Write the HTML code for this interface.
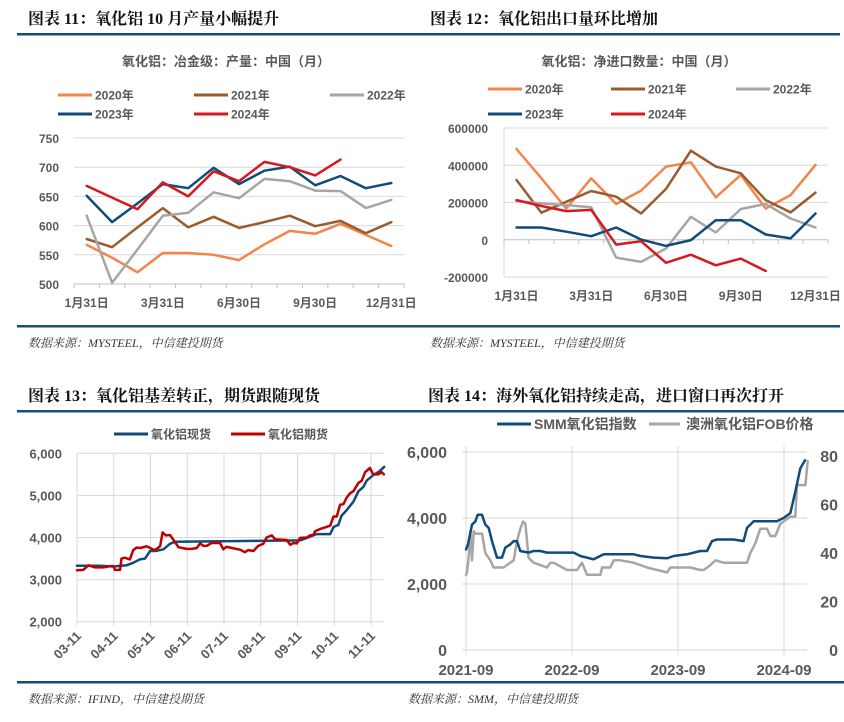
<!DOCTYPE html>
<html><head><meta charset="utf-8"><style>
html,body{margin:0;padding:0;background:#fff;}
svg{display:block;}
.t{font-family:"Liberation Serif","Noto Serif CJK SC",serif;font-weight:bold;font-size:16px;fill:#111;}
.s{font-family:"Liberation Serif","Noto Serif CJK SC",serif;font-style:italic;font-size:12px;fill:#333;}
.a{font-family:"Liberation Sans","Noto Sans CJK SC",sans-serif;font-weight:bold;font-size:12px;fill:#595959;}
.l{font-family:"Liberation Sans","Noto Sans CJK SC",sans-serif;font-weight:bold;font-size:12px;fill:#595959;}
</style></head><body>
<svg id="c" width="844" height="722" xmlns="http://www.w3.org/2000/svg">
<g>
<text class="t" x="28" y="24">图表 11：氧化铝 10 月产量小幅提升</text>
<rect x="17" y="33" width="405" height="2.5" fill="#164E7E"/>
<text class="l" x="226" y="66" text-anchor="middle" style="font-size:13px">氧化铝：冶金级：产量：中国（月）</text>
<rect x="17" y="325" width="405" height="2.5" fill="#164E7E"/>
<text class="s" x="28" y="347">数据来源：MYSTEEL，中信建投期货</text>
</g>
<g>
<text class="t" x="430" y="24">图表 12：氧化铝出口量环比增加</text>
<rect x="422" y="33" width="418" height="2.5" fill="#164E7E"/>
<text class="l" x="639" y="66" text-anchor="middle" style="font-size:13px">氧化铝：净进口数量：中国（月）</text>
<rect x="422" y="325" width="418" height="2.5" fill="#164E7E"/>
<text class="s" x="430" y="347">数据来源：MYSTEEL，中信建投期货</text>
</g>
<g>
<text class="t" x="28" y="401">图表 13：氧化铝基差转正，期货跟随现货</text>
<rect x="17" y="410" width="405" height="2.5" fill="#164E7E"/>
<rect x="17" y="681" width="405" height="2.5" fill="#164E7E"/>
<text class="s" x="28" y="703">数据来源：IFIND，中信建投期货</text>
</g>
<g>
<text class="t" x="428" y="401">图表 14：海外氧化铝持续走高，进口窗口再次打开</text>
<rect x="405" y="410" width="439" height="2.5" fill="#164E7E"/>
<rect x="405" y="681" width="439" height="2.5" fill="#164E7E"/>
<text class="s" x="408" y="703">数据来源：SMM，中信建投期货</text>
</g>
</svg>
<script>
// ---- Chart 11 data ----
const c11Cats = ["1月31日","2月","3月","3月31日","4月","5月","6月30日","7月","8月","9月30日","10月","11月","12月31日"];
const c11Ticks = [750,700,650,600,550,500];
const c11Y2020 = [567,545,520,553,553,550,541,568,591,586,603,584,565];
const c11Y2021 = [577,563,597,630,597,615,596,606,617,599,608,587,606];
const c11Y2022 = [617,502,559,617,622,657,647,680,676,660,659,630,644];
const c11Y2023 = [651,606,638,671,664,699,671,694,701,669,685,664,673];
const c11Y2024 = [668,648,628,674,650,693,676,709,700,686,713];
// ---- Chart 12 data ----
const c12Ticks = [600000,400000,200000,0,-200000];
const c12Y2020 = [487000,330000,168000,330000,192000,264000,393000,416000,228000,348000,168000,240000,402000];
const c12Y2021 = [321000,145000,204000,262000,231000,141000,273000,478000,393000,357000,213000,147000,253000];
const c12Y2022 = [208000,195000,186000,174000,-96000,-119000,-47000,123000,39000,165000,192000,114000,66000];
const c12Y2023 = [66000,66000,43000,19000,66000,1000,-33000,-2000,105000,105000,28000,7000,141000];
const c12Y2024 = [213000,181000,154000,160000,-26000,-8000,-124000,-80000,-137000,-101000,-168000];
// ---- Chart 13 data (month offset from 03-11) ----
const c13Labels = ["03-11","04-11","05-11","06-11","07-11","08-11","09-11","10-11","11-11"];
const c13Ticks = [6000,5000,4000,3000,2000];
const c13SpotM = [0,0.62,0.99,1.35,1.53,1.71,1.85,1.99,2.14,2.35,2.53,2.67,6.07,6.25,6.52,6.89,6.98,7.11,7.2,7.34,7.52,7.66,7.79,7.88,8.06,8.24,8.36];
const c13SpotV = [3330,3330,3310,3340,3400,3480,3500,3680,3680,3720,3850,3900,3930,3990,4080,4080,4250,4300,4520,4650,4850,5100,5200,5350,5480,5580,5680];
const c13FutM = [0,0.17,0.31,0.49,0.72,0.9,0.99,1.03,1.17,1.21,1.3,1.44,1.53,1.62,1.72,1.9,1.99,2.12,2.26,2.33,2.42,2.53,2.62,2.76,2.98,3.12,3.26,3.35,3.44,3.53,3.66,3.89,3.98,4.07,4.26,4.44,4.57,4.66,4.8,4.93,5.07,5.16,5.3,5.39,5.53,5.71,5.8,5.89,5.98,6.07,6.25,6.34,6.43,6.48,6.61,6.89,6.98,7.07,7.16,7.25,7.34,7.43,7.52,7.66,7.75,7.84,7.97,8.06,8.2,8.29,8.35];
const c13FutV = [3220,3230,3340,3290,3290,3320,3320,3230,3230,3500,3520,3480,3700,3760,3750,3790,3750,3700,3790,4120,4050,4060,3950,3770,3730,3730,3750,3860,3800,3800,3870,3870,3720,3780,3740,3710,3650,3700,3680,3800,3850,4000,4050,3960,3950,3940,3830,3870,3860,3990,4000,4050,4060,4150,4200,4280,4500,4500,4780,4790,4950,5050,5100,5300,5350,5550,5650,5500,5500,5550,5500];
// ---- Chart 14 data (month offset from 2021-09) ----
const c14Labels = ["2021-09","2022-09","2023-09","2024-09"];
const c14LeftTicks = [6000,4000,2000,0];
const c14RightTicks = [80,60,40,20,0];
const c14SmmM = [0,0.23,0.68,1.06,1.32,1.81,2.19,2.57,2.94,3.51,4.08,4.45,5.02,5.4,5.77,6.15,7.09,7.66,8.42,9.17,12.19,12.94,13.7,14.45,14.83,15.58,17.47,18.98,19.74,21.25,22.75,23.51,25.02,26.53,26.72,27.28,27.85,28.42,30.3,31.43,31.81,32.38,32.57,35.21,35.96,36.72,37.28,37.85,38.38];
const c14SmmV = [3050,3200,3800,3900,4100,4100,3800,3700,3300,2800,2800,3100,3200,3300,3300,3000,2950,3000,3000,2950,2950,2850,2800,2750,2800,2900,2900,2900,2850,2800,2780,2850,2900,3000,3000,3000,3300,3350,3350,3300,3700,3850,3900,3900,4000,4150,4800,5500,5750];
const c14FobM = [0,0.11,0.3,0.49,0.68,0.87,1.06,1.81,2.19,2.75,3.13,4.26,5.02,5.4,5.77,6.15,6.45,6.72,7.09,7.66,8.42,9.17,9.55,9.92,11.43,11.81,12.57,13.13,13.7,15.21,15.4,16.34,16.72,17.47,18.98,19.74,20.49,22.75,23.13,25.4,26.53,26.91,27.66,28.23,29.17,31.81,32.19,32.75,33.32,34.08,34.45,35.02,35.58,36.72,37.28,37.47,38.42,38.68];
const c14FobV = [31,32,38,49,37,49,48,48,40,37,34,34,36,37,45,50,53,52,38,36,35,34,36,36,33,33,33,36,31,31,34,34,37,37,36,35,34,32,34,34,33,33,35,37,36,36,40,44,50,50,47,47,52,55,55,68,68,78];
</script>
<script>
const NS="http://www.w3.org/2000/svg";
const svg=document.getElementById('c');
function mk(tag,attrs,parent){const e=document.createElementNS(NS,tag);for(const k in attrs)e.setAttribute(k,attrs[k]);(parent||svg).appendChild(e);return e;}
function txt(cls,x,y,s,anchor,parent){const e=mk('text',{class:cls,x:x,y:y,'text-anchor':anchor||'start'},parent);e.textContent=s;return e;}
function poly(pts,color,w,parent){return mk('polyline',{points:pts.map(p=>p[0].toFixed(1)+','+p[1].toFixed(1)).join(' '),fill:'none',stroke:color,'stroke-width':w,'stroke-linejoin':'round','stroke-linecap':'round'},parent);}
const COL={o:'#F4844A',b:'#9A5B2E',g:'#A6A6A6',n:'#0F4C7C',r:'#D7191F'};

function legend(parent,x,y,color,label,name,len){
  const g=mk('g',{},parent);
  
  
  mk('line',{x1:x,y1:y,x2:x+(len||34),y2:y,stroke:color,'stroke-width':3},g);
  txt('l',x+(len||34)+3,y+4.5,label,'start',g);
}

// ---------- Chart 11 ----------
(function(){
  const g=mk('g',{});
  
  
  const x0=74,x1=404,yTop=138,yBot=284,vMin=500,vMax=750;
  const n=c11Cats.length,bw=(x1-x0)/n;
  const X=i=>x0+(i+0.5)*bw, Y=v=>yBot-(v-vMin)/(vMax-vMin)*(yBot-yTop);
  c11Ticks.forEach(t=>{
    if(t!==vMin){const gl=mk('line',{x1:x0,x2:x1,y1:Y(t),y2:Y(t),stroke:'#D9D9D9','stroke-width':1},g);
    
    }
    const tl=txt('a',59,Y(t)+5,String(t),'end',g);
    
    
  });
  mk('line',{x1:x0,x2:x1,y1:yBot,y2:yBot,stroke:'#BFBFBF','stroke-width':1},g);
  for(let i=0;i<=n;i++)mk('line',{x1:x0+i*bw,x2:x0+i*bw,y1:yBot,y2:yBot+4,stroke:'#BFBFBF'},g);
  [0,3,6,9,12].forEach(i=>{const tl=txt('a',X(i),yBot+23,c11Cats[i],'middle',g);
    
    });
  [[c11Y2020,COL.o,'line-2020'],[c11Y2021,COL.b,'line-2021'],[c11Y2022,COL.g,'line-2022'],[c11Y2023,COL.n,'line-2023'],[c11Y2024,COL.r,'line-2024']].forEach(([d,c,nm])=>{
    const p=poly(d.map((v,i)=>[X(i),Y(v)]),c,2.5,g);
    
    
  });
  legend(g,58,95,COL.o,'2020年','legend-2020');
  legend(g,194,95,COL.b,'2021年','legend-2021');
  legend(g,330,95,COL.g,'2022年','legend-2022');
  legend(g,58,114,COL.n,'2023年','legend-2023');
  legend(g,194,114,COL.r,'2024年','legend-2024');
})();

// ---------- Chart 12 ----------
(function(){
  const g=mk('g',{});
  
  
  const x0=504,x1=828,yTop=128,yBot=277,vMin=-200000,vMax=600000;
  const n=13,bw=(x1-x0)/n;
  const X=i=>x0+(i+0.5)*bw, Y=v=>yBot-(v-vMin)/(vMax-vMin)*(yBot-yTop);
  c12Ticks.forEach(t=>{
    const gl=mk('line',{x1:x0,x2:x1,y1:Y(t),y2:Y(t),stroke:t===0?'#BFBFBF':'#D9D9D9','stroke-width':1},g);
    
    
    const tl=txt('a',488,Y(t)+5,String(t),'end',g);
    
    
  });
  mk('line',{x1:x0,x2:x0,y1:yTop,y2:yBot,stroke:'#D9D9D9'},g);
  for(let i=0;i<=n;i++)mk('line',{x1:x0+i*bw,x2:x0+i*bw,y1:Y(0),y2:Y(0)+4,stroke:'#BFBFBF'},g);
  [[0,'1月31日'],[3,'3月31日'],[6,'6月30日'],[9,'9月30日'],[12,'12月31日']].forEach(([i,s])=>{const tl=txt('a',X(i),300,s,'middle',g);
    
    });
  [[c12Y2020,COL.o,'line-2020'],[c12Y2021,COL.b,'line-2021'],[c12Y2022,COL.g,'line-2022'],[c12Y2023,COL.n,'line-2023'],[c12Y2024,COL.r,'line-2024']].forEach(([d,c,nm])=>{
    const p=poly(d.map((v,i)=>[X(i),Y(v)]),c,2.5,g);
    
    
  });
  legend(g,488,89,COL.o,'2020年','legend-2020');
  legend(g,611,89,COL.b,'2021年','legend-2021');
  legend(g,736,89,COL.g,'2022年','legend-2022');
  legend(g,488,114,COL.n,'2023年','legend-2023');
  legend(g,611,114,COL.r,'2024年','legend-2024');
})();

// ---------- Chart 13 ----------
(function(){
  const g=mk('g',{});
  
  
  const x0=77,x1=384,yTop=453.3,yBot=621.7,vMin=2000,vMax=6000,mw=36.75;
  const X=m=>x0+m*mw, Y=v=>yBot-(v-vMin)/(vMax-vMin)*(yBot-yTop);
  c13Ticks.forEach(t=>{
    const gl=mk('line',{x1:x0,x2:x1,y1:Y(t),y2:Y(t),stroke:'#D9D9D9','stroke-width':1},g);
    
    
    const tl=txt('a',62,Y(t)+5,t.toLocaleString('en-US'),'end',g);
    tl.style.fontSize='13px';
    
    
  });
  c13Labels.forEach((s,i)=>{
    mk('line',{x1:X(i),x2:X(i),y1:yTop,y2:yBot+4,stroke:'#D9D9D9'},g);
    const tl=mk('text',{class:'a',x:X(i)+5,y:yBot+15,'text-anchor':'end',transform:`rotate(-45 ${X(i)+5} ${yBot+15})`},g);
    tl.style.fontSize='13px';
    tl.textContent=s;
    
    
  });
  const s=poly(c13SpotM.map((m,i)=>[X(m),Y(c13SpotV[i])]),'#0F4C7C',2.5,g);
  
  
  const f=poly(c13FutM.map((m,i)=>[X(m),Y(c13FutV[i])]),'#C00000',2.5,g);
  
  
  legend(g,114,434,'#0F4C7C','氧化铝现货','legend-spot');
  legend(g,231,434,'#C00000','氧化铝期货','legend-futures');
})();

// ---------- Chart 14 ----------
(function(){
  const g=mk('g',{});
  
  
  const x0=466,x1=807,yBot=650,yTop=452,mw=106/12;
  const X=m=>x0+m*mw, YL=v=>yBot-v/6000*(yBot-yTop), YR=v=>yBot-v/80*(yBot-456);
  c14LeftTicks.forEach(t=>{
    const gl=mk('line',{x1:x0-4,x2:x1,y1:YL(t),y2:YL(t),stroke:'#D9D9D9','stroke-width':1},g);
    
    
    const tl=txt('a',447,YL(t)+6,t.toLocaleString('en-US'),'end',g);
    tl.style.fontSize='16px';
    
    
  });
  c14RightTicks.forEach(t=>{
    const tl=txt('a',838,YR(t)+6,String(t),'end',g);
    tl.style.fontSize='16px';
    
    
  });
  c14Labels.forEach((s,i)=>{
    const xx=X(i*12);
    mk('line',{x1:xx,x2:xx,y1:446,y2:yBot+5,stroke:'#D9D9D9'},g);
    const tl=txt('a',xx,675,s,'middle',g);
    tl.style.fontSize='15px';
    
    
  });
  const f=poly(c14FobM.map((m,i)=>[X(m),YR(c14FobV[i])]),'#A6A6A6',2.5,g);
  
  
  const s=poly(c14SmmM.map((m,i)=>[X(m),YL(c14SmmV[i])]),'#0F4C7C',2.5,g);
  
  
  const l1=mk('g',{},g);
  
  
  mk('line',{x1:497,y1:424,x2:531,y2:424,stroke:'#0F4C7C','stroke-width':3},l1);
  const t1=txt('l',534,429,'SMM氧化铝指数','start',l1);t1.style.fontSize='14px';
  const l2=mk('g',{},g);
  
  
  mk('line',{x1:649,y1:424,x2:680,y2:424,stroke:'#A6A6A6','stroke-width':3},l2);
  const t2=txt('l',686,429,'澳洲氧化铝FOB价格','start',l2);t2.style.fontSize='14px';
})();
</script>
</body></html>
